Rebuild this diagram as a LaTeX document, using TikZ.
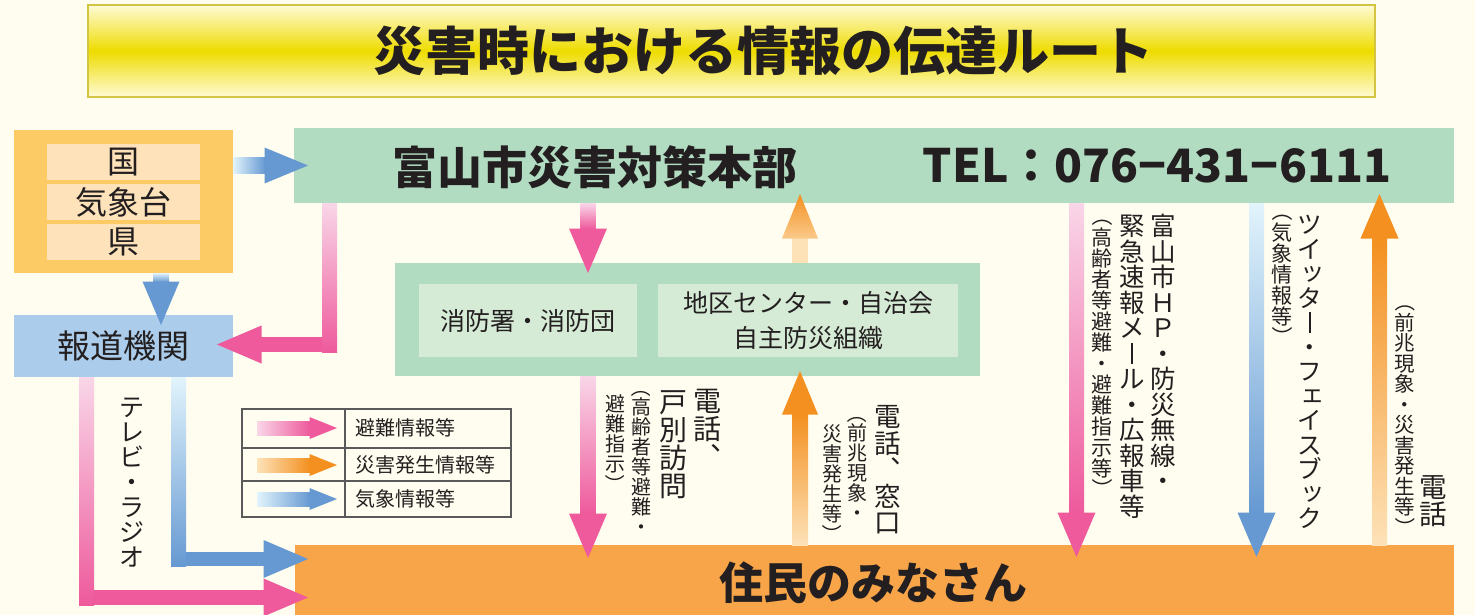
\documentclass[tikz,border=0pt]{standalone}
\usepackage{fontspec}
\usetikzlibrary{calc}
\newfontfamily\jp{Noto Sans CJK JP}
\definecolor{bg}{HTML}{FFFDEF}
\definecolor{titleY}{HTML}{EEDC00}
\definecolor{titleL}{HTML}{FFFBD6}
\definecolor{titleB}{HTML}{D3C442}
\definecolor{grn}{HTML}{B2DCC2}
\definecolor{grnL}{HTML}{D6EBD6}
\definecolor{org}{HTML}{FDCB66}
\definecolor{orgL}{HTML}{FEE3BA}
\definecolor{blu}{HTML}{ABCDEB}
\definecolor{jum}{HTML}{F8A54A}
\definecolor{pkD}{HTML}{EE5A9C}
\definecolor{pkL}{HTML}{F9D6E8}
\definecolor{orD}{HTML}{F39020}
\definecolor{orL}{HTML}{FDE2B8}
\definecolor{blD}{HTML}{6699D2}
\definecolor{blL}{HTML}{E2F4FC}
\definecolor{ink}{HTML}{231F20}
\definecolor{legline}{HTML}{5A5A5A}
\newcommand\fsz[2]{\fontsize{#1}{#2}\selectfont}
% vertical (tategaki) column by stacking upright glyphs
\newcommand\vop{\rotatebox[origin=c]{-90}{（}}
\newcommand\vcl{\rotatebox[origin=c]{-90}{）}}
\newcommand\vcm{︑}
\newcommand\vcho{\rule[-0.04em]{0.075em}{0.84em}}
\newcommand\vtsu{\raisebox{0.1em}{\kern0.1em ッ\kern-0.1em}}
\newcommand\vse{\raisebox{0.1em}{\kern0.1em ェ\kern-0.1em}}
\makeatletter
\newcommand\vcol[1]{\vbox{\offinterlineskip\vc@loop#1\relax}}
\def\vc@loop#1{\ifx#1\relax\else
  \ifx#1\vop\vskip-.5em\fi
  \hbox to 1em{\hss\vrule height.88em depth.12em width0pt\relax#1\hss}%
  \ifx#1\vcl\vskip-.5em\fi
  \expandafter\vc@loop\fi}
\makeatother
% right arrow: start, tip, light, dark, half shaft, head length, half head
\newcommand\arrR[7]{%
  \shade[left color=#3, right color=#4] ($(#1)+(0,-#5)$) rectangle ($(#2)+(-#6,#5)$);
  \fill[#4] ($(#2)+(-#6-0.5,-#7)$) -- ($(#2)+(-#6-0.5,#7)$) -- (#2) -- cycle;}
\newcommand\arrD[7]{%
  \shade[top color=#3, bottom color=#4] ($(#1)+(-#5,0)$) rectangle ($(#2)+(#5,-#6)$);
  \fill[#4] ($(#2)+(-#7,-#6-0.5)$) -- ($(#2)+(#7,-#6-0.5)$) -- (#2) -- cycle;}
\newcommand\arrU[7]{%
  \shade[bottom color=#3, top color=#4] ($(#1)+(-#5,0)$) rectangle ($(#2)+(#5,#6)$);
  \fill[#4] ($(#2)+(-#7,#6+0.5)$) -- ($(#2)+(#7,#6+0.5)$) -- (#2) -- cycle;}
\tikzset{
  blk/.style={inner sep=0pt, outer sep=0pt, anchor=north west, text=ink},
  lbl/.style={inner sep=0pt, text=ink},
  vt/.style={inner sep=0pt, anchor=north, text=ink},
}
\begin{document}
\begin{tikzpicture}[x=1pt,y=-1pt]
\fill[bg] (0,0) rectangle (1475,615);
\useasboundingbox (0,0) rectangle (1475,615);

% title
\node[blk, minimum width=1287pt, minimum height=92pt, top color=titleL, bottom color=titleL, middle color=titleY, draw=titleB, line width=2.5pt] (title) at (88,5) {};
\node[lbl, font=\jp\bfseries\fsz{52}{60}] (ttl) at (763,51) {災害時における情報の伝達ルート};

% boxes
\node[blk, fill=org, minimum width=219pt, minimum height=143pt] (src) at (14,130) {};
\node[blk, fill=orgL, minimum width=153pt, minimum height=36pt, font=\jp\fsz{32}{34}] (kuni) at (47,144) {国};
\node[blk, fill=orgL, minimum width=153pt, minimum height=36pt, font=\jp\fsz{32}{34}] (kisho) at (47,184) {気象台};
\node[blk, fill=orgL, minimum width=153pt, minimum height=36pt, font=\jp\fsz{32}{34}] (ken) at (47,224) {県};
\node[blk, fill=blu, minimum width=219pt, minimum height=62pt, font=\jp\fsz{33}{36}] (hodo) at (14,315) {報道機関};

\node[blk, fill=grn, minimum width=1160pt, minimum height=75pt] (hq) at (294,128) {};
\node[lbl, font=\jp\bfseries\fsz{45}{50}] (hqname) at (595,167) {富山市災害対策本部};
\node[lbl, font=\jp\bfseries\fsz{46}{50}] (hqtel) at (1157,166) {TEL：076−431−6111};

\node[blk, fill=grn, minimum width=585pt, minimum height=113pt] (mid) at (395,263) {};
\node[blk, fill=grnL, minimum width=218pt, minimum height=73pt, font=\jp\fsz{25}{35}] (fire) at (419,284) {消防署・消防団};
\node[blk, fill=grnL, minimum width=300pt, minimum height=73pt, font=\jp\fsz{25}{35}, align=center] (chiku) at (658,284) {地区センター・自治会\\自主防災組織};

\node[blk, fill=jum, minimum width=1159pt, minimum height=80pt] (jumin) at (295,545) {};
\node[lbl, font=\jp\bfseries\fsz{44}{48}] (jtext) at (873,583) {住民のみなさん};

% legend
\node[blk, draw=legline, line width=1.3pt, minimum width=269pt, minimum height=108pt] (leg) at (242,409) {};
\draw[legline, line width=1.3pt] ($(leg.north west)+(103,0)$) -- ($(leg.south west)+(103,0)$);
\draw[legline, line width=1.3pt] ($(leg.north west)+(0,39)$) -- ($(leg.north east)+(0,39)$);
\draw[legline, line width=1.3pt] ($(leg.north west)+(0,72)$) -- ($(leg.north east)+(0,72)$);
\node[lbl, anchor=west, font=\jp\fsz{20}{22}] (lg1) at (355,428) {避難情報等};
\node[lbl, anchor=west, font=\jp\fsz{20}{22}] (lg2) at (355,465) {災害発生情報等};
\node[lbl, anchor=west, font=\jp\fsz{20}{22}] (lg3) at (355,499) {気象情報等};
\coordinate (l1s) at ($(leg.north west)+(15,19)$);
\coordinate (l1t) at ($(leg.north west)+(95,19)$);
\coordinate (l2s) at ($(leg.north west)+(15,56)$);
\coordinate (l2t) at ($(leg.north west)+(95,56)$);
\coordinate (l3s) at ($(leg.north west)+(15,90)$);
\coordinate (l3t) at ($(leg.north west)+(95,90)$);
\arrR{l1s}{l1t}{pkL}{pkD}{7}{27}{11}
\arrR{l2s}{l2t}{orL}{orD}{7}{27}{11}
\arrR{l3s}{l3t}{blL}{blD}{7}{27}{11}

% arrows
\coordinate (a1s) at ($(src.north east)+(0,35.5)$);
\coordinate (a1t) at ($(hq.west |- a1s)+(14,0)$);
\arrR{a1s}{a1t}{blL}{blD}{7.5}{43}{18}

\coordinate (a2s) at ($(src.south west)+(147,0)$);
\coordinate (a2t) at ($(hodo.north west)+(147,10)$);
\arrD{a2s}{a2t}{blL}{blD}{8}{43}{18.5}

\coordinate (a3s) at ($(hq.south west)+(35.5,0)$);
\coordinate (a3t) at ($(hodo.east)+(-16,-1.5)$);
\shade[top color=pkL, bottom color=pkD] ($(a3s)+(-7.5,0)$) rectangle ($(a3s |- a3t)+(7.5,7.5)$);
\fill[pkD] ($(a3t)+(44,-7.5)$) rectangle ($(a3s |- a3t)+(-7.5,7.5)$);
\fill[pkD] ($(a3t)+(44.5,-19)$) -- ($(a3t)+(44.5,19)$) -- (a3t) -- cycle;

\coordinate (a4s) at ($(hq.south west)+(294,0)$);
\coordinate (a4t) at ($(mid.north west)+(193,10)$);
\arrD{a4s}{a4t}{pkL}{pkD}{7.5}{44}{19}

\coordinate (a5s) at ($(mid.north west)+(405,0)$);
\coordinate (a5t) at ($(hq.south west)+(506,-9)$);
\fill[orL] ($(a5s)+(-8,0)$) rectangle ($(a5t)+(8,44)$);
\shade[bottom color=orL!70!orD, top color=orD] ($(a5t)+(-18,44.5)$) -- ($(a5t)+(18,44.5)$) -- (a5t) -- cycle;

\coordinate (a6s) at ($(mid.south west)+(193,0)$);
\coordinate (a6t) at ($(jumin.north west)+(293,13)$);
\arrD{a6s}{a6t}{pkL}{pkD}{7.5}{44}{19}

\coordinate (a7s) at ($(jumin.north west)+(505,0)$);
\coordinate (a7t) at ($(mid.south west)+(405,-5)$);
\arrU{a7s}{a7t}{orL}{orD}{8}{43}{18}

\coordinate (a8s) at ($(hq.south west)+(782.5,0)$);
\coordinate (a8t) at ($(jumin.north west)+(781.5,12)$);
\arrD{a8s}{a8t}{pkL}{pkD}{7.5}{44}{19}

\coordinate (a9s) at ($(hq.south west)+(962.5,0)$);
\coordinate (a9t) at ($(jumin.north west)+(961.5,12)$);
\arrD{a9s}{a9t}{blL}{blD}{7.5}{44}{19}

\coordinate (a10s) at ($(jumin.north west)+(1084.5,0)$);
\coordinate (a10t) at ($(hq.south west)+(1085.5,-9)$);
\arrU{a10s}{a10t}{orL}{orD}{7.5}{44}{19}

\coordinate (a11s) at ($(hodo.south west)+(72.5,0)$);
\coordinate (a11t) at ($(jumin.north west)+(13,52.5)$);
\shade[top color=pkL, bottom color=pkD] ($(a11s)+(-7.5,0)$) rectangle ($(a11s |- a11t)+(7.5,7.5)$);
\fill[pkD] ($(a11s |- a11t)+(7.5,-7.5)$) rectangle ($(a11t)+(-44,7.5)$);
\fill[pkD] ($(a11t)+(-44.5,-19)$) -- ($(a11t)+(-44.5,19)$) -- (a11t) -- cycle;

\coordinate (a12s) at ($(hodo.south west)+(164.5,0)$);
\coordinate (a12t) at ($(jumin.north west)+(13,14)$);
\shade[top color=blL, bottom color=blD] ($(a12s)+(-7.5,0)$) rectangle ($(a12s |- a12t)+(7.5,7)$);
\fill[blD] ($(a12s |- a12t)+(7.5,-7)$) rectangle ($(a12t)+(-44,7)$);
\fill[blD] ($(a12t)+(-44.5,-19)$) -- ($(a12t)+(-44.5,19)$) -- (a12t) -- cycle;

% vertical labels
\node[vt, font=\jp\fsz{25}{30}] (tvr) at (132,394) {\vcol{テレビ・ラジオ}};
\node[vt, font=\jp\fsz{28}{30}] (t6a) at (707,387) {\vcol{電話\vcm}};
\node[vt, font=\jp\fsz{28}{30}] (t6b) at (673,388) {\vcol{戸別訪問}};
\node[vt, font=\jp\fsz{20}{22}] (t6c) at (641,387) {\vcol{\vop 高齢者等避難・}};
\node[vt, font=\jp\fsz{20}{22}] (t6d) at (615,394) {\vcol{避難指示\vcl}};
\node[vt, font=\jp\fsz{26.5}{30}] (t7a) at (888,403) {\vcol{電話\vcm 窓口}};
\node[vt, font=\jp\fsz{20}{22}] (t7b) at (857,413) {\vcol{\vop 前兆現象・}};
\node[vt, font=\jp\fsz{20}{22}] (t7c) at (832,424) {\vcol{災害発生等\vcl}};
\node[vt, font=\jp\fsz{25.5}{30}] (t8a) at (1163,213) {\vcol{富山市ＨＰ・防災無線・}};
\node[vt, font=\jp\fsz{25.5}{30}] (t8b) at (1132,213) {\vcol{緊急速報メ\vcho ル・広報車等}};
\node[vt, font=\jp\fsz{21}{22}] (t8c) at (1102,216) {\vcol{\vop 高齢者等避難・避難指示等\vcl}};
\node[vt, font=\jp\fsz{24.5}{28}] (t9a) at (1310,212) {\vcol{ツイ\vtsu タ\vcho ・フ\vse イスブ\vtsu ク}};
\node[vt, font=\jp\fsz{21}{22}] (t9b) at (1282,211) {\vcol{\vop 気象情報等\vcl}};
\node[vt, font=\jp\fsz{20.5}{22}] (t10a) at (1405,302) {\vcol{\vop 前兆現象・災害発生等\vcl}};
\node[vt, font=\jp\fsz{27.5}{30}] (t10b) at (1433,473) {\vcol{電話}};
\end{tikzpicture}
\end{document}
